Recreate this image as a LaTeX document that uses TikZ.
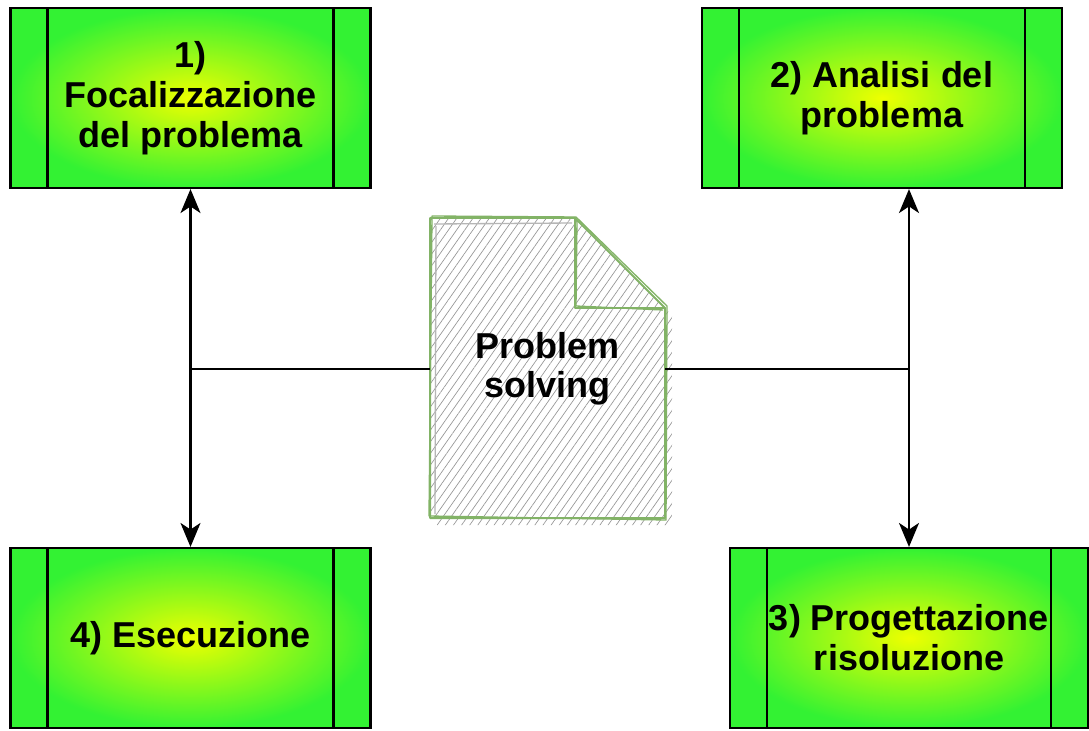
\documentclass[tikz,border=0pt]{standalone}
\usepackage{fontspec}
\setmainfont{Liberation Sans}
\usetikzlibrary{arrows.meta,positioning,patterns.meta}

\definecolor{boxgreen}{RGB}{51,242,51}
\definecolor{boxyellow}{RGB}{238,255,0}
\definecolor{docgreen}{RGB}{130,179,102}
\definecolor{hatchgray}{RGB}{150,150,150}

\begin{document}
\begin{tikzpicture}[
  x=0.75pt,y=-0.75pt,
  phase/.style={draw,line width=1.6pt,minimum width=270pt,minimum height=135pt,inner sep=0pt,
    shading=radial,inner color=boxyellow,outer color=boxgreen,align=center,
    font=\fontsize{27}{30}\selectfont\bfseries,
    path picture={
      \draw[line width=1.6pt] ([xshift=27.75pt]path picture bounding box.north west) -- ([xshift=27.75pt]path picture bounding box.south west);
      \draw[line width=1.6pt] ([xshift=-27.75pt]path picture bounding box.north east) -- ([xshift=-27.75pt]path picture bounding box.south east);
    }},
  doctext/.style={minimum width=176.25pt,minimum height=225pt,inner sep=0pt,align=center,
    font=\fontsize{27}{29}\selectfont\bfseries},
  hatch/.style={pattern={Lines[angle=55,distance=5pt,line width=0.5pt]},pattern color=hatchgray},
  sketch/.style={draw=docgreen,line width=1.5pt,line join=round},
  arrow/.style={-{Stealth[length=18pt,width=15pt,inset=5pt]},line width=1.8pt}
]
\useasboundingbox (0,0) rectangle (1089,731);

% the four phases
\node[phase] (focus) at (190.5,98) {1)\\Focalizzazione\\del problema};
\node[phase] (analysis) at (882,98) {2) Analisi del\\problema};
\node[phase,minimum width=268.5pt] (design) at (909,638) {3) Progettazione\\risoluzione};
\node[phase] (exec) at (190.5,638) {4) Esecuzione};

% hand-drawn page in the middle, shadow first
\fill[hatch,shift={(7,7)}] (430,218) -- (575,218) -- (665,308) -- (665,518) -- (430,518) -- cycle;
\fill[white] (430,218) -- (575,218) -- (665,308) -- (665,518) -- (430,518) -- cycle;
\fill[hatch] (430,218) -- (575,218) -- (665,308) -- (665,518) -- (430,518) -- cycle;
\draw[hatchgray!70,line width=1pt] (434,224) -- (572,223) (436,226) -- (435,514);
\draw[sketch] (430,218) -- (575,218) -- (665,308) -- (665,518) -- (430,518) -- cycle;
\draw[sketch,line width=1pt] (432,216) -- (576,217) -- (667,306) -- (666,520) -- (429,516) -- cycle;
\draw[sketch] (575,218) -- (575,308) -- (665,308);
\draw[sketch,line width=1pt] (577,220) -- (576,306) -- (663,310);
\node[doctext] (doc) at (547.5,369) {Problem\\solving};

% links from the page to each phase
\draw[arrow] (doc.west) -| (focus.south);
\draw[arrow] (doc.west) -| (exec.north);
\draw[arrow] (doc.east) -| (analysis.south -| design.north);
\draw[arrow] (doc.east) -| (design.north);
\end{tikzpicture}
\end{document}
